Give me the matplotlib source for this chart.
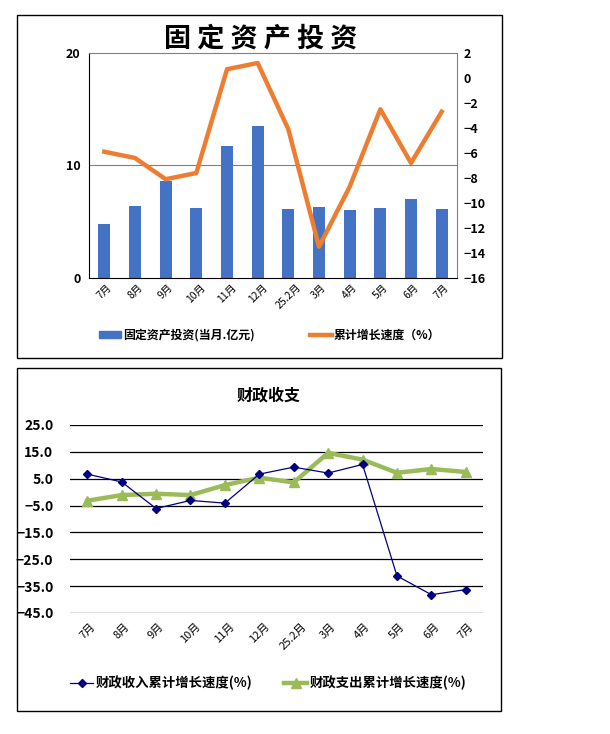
import matplotlib
matplotlib.use('Agg')
import matplotlib.pyplot as plt
from matplotlib.patches import Rectangle
from matplotlib.lines import Line2D

plt.rcParams['font.family'] = ['Noto Sans CJK SC', 'DejaVu Sans']
plt.rcParams['font.weight'] = 'bold'

# Data
months = ['7月', '8月', '9月', '10月', '11月', '12月', '25.2月', '3月', '4月', '5月', '6月', '7月']
invest = [4.8, 6.4, 8.6, 6.2, 11.7, 13.5, 6.1, 6.3, 6.0, 6.2, 7.0, 6.1]
invest_growth = [-5.9, -6.4, -8.1, -7.6, 0.7, 1.2, -4.1, -13.5, -8.7, -2.5, -6.8, -2.7]
revenue_growth = [6.7, 3.8, -6.1, -3.1, -4.1, 6.7, 9.3, 7.1, 10.3, -31.2, -38.2, -36.3]
spending_growth = [-3.2, -1.1, -0.6, -1.1, 2.6, 5.4, 3.6, 14.6, 12.1, 7.2, 8.6, 7.5]

x = list(range(len(months)))

fig = plt.figure(figsize=(6.1, 7.34), dpi=100)

# panel frames
fig.patches.append(Rectangle((0.0279, 0.5123), 0.7951, 0.4673, transform=fig.transFigure,
                             fill=False, edgecolor='black', linewidth=1.0))
fig.patches.append(Rectangle((0.0279, 0.0313), 0.7934, 0.4673, transform=fig.transFigure,
                             fill=False, edgecolor='black', linewidth=1.0))

# ---- Top chart: fixed asset investment
ax1 = fig.add_axes([0.1459, 0.6213, 0.6033, 0.3065])
ax1.bar(x, invest, width=0.39, color='#4472C4', zorder=2)
ax1.set_xlim(-0.5, 11.5)
ax1.set_ylim(0, 20)
ax1.set_yticks([0, 10, 20])
ax1.axhline(10, color='#808080', linewidth=0.8, zorder=1)
ax1.set_xticks(x)
ax1.set_xticklabels(months, rotation=45, fontsize=7.5, fontweight='medium')
ax1.tick_params(axis='x', length=0, pad=3)
ax1.tick_params(axis='y', length=0, labelsize=9, pad=6)
ax1.spines['top'].set_color('#808080')
ax1.spines['right'].set_color('#808080')

ax2 = ax1.twinx()
ax2.plot(x, invest_growth, color='#ED7D31', linewidth=3.2, zorder=3)
ax2.set_ylim(-16, 2)
ax2.set_yticks(range(-16, 3, 2))
ax2.tick_params(axis='y', length=0, labelsize=9, pad=5)
for s in ax2.spines.values():
    s.set_visible(False)

fig.text(0.428, 0.9476, '固 定 资 产 投 资', fontsize=19.5, fontweight='bold',
         ha='center', va='center')

h1 = Rectangle((0, 0), 1, 1, color='#4472C4')
h2 = Line2D([], [], color='#ED7D31', linewidth=3.2)
fig.legend([h1, h2], ['固定资产投资(当月.亿元)', '累计增长速度（%）'],
           loc='center', bbox_to_anchor=(0.442, 0.5436), ncol=2, frameon=False,
           fontsize=8.6, handlelength=1.85, handleheight=0.55, columnspacing=4.6,
           handletextpad=0.15)

# ---- Bottom chart: fiscal revenue & spending
ax3 = fig.add_axes([0.1148, 0.1649, 0.677, 0.2561])
ax3.plot(x, revenue_growth, color='#000080', linewidth=0.9, marker='D', markersize=4.5, zorder=3)
ax3.plot(x, spending_growth, color='#9BBB59', linewidth=3.2, marker='^', markersize=7, zorder=2)
ax3.set_xlim(-0.5, 11.5)
ax3.set_ylim(-45, 25)
yt = list(range(-45, 26, 10))
ax3.set_yticks(yt)
ax3.set_yticklabels([f'{v:.1f}'.replace('-', '−') for v in yt], fontsize=10)
ax3.yaxis.grid(True, color='black', linewidth=0.9)
ax3.set_axisbelow(True)
ax3.set_xticks(x)
ax3.set_xticklabels(months, rotation=45, fontsize=8, fontweight='medium')
ax3.tick_params(axis='x', length=0, pad=6)
ax3.tick_params(axis='y', length=0, pad=12)
for s in ax3.spines.values():
    s.set_visible(False)

fig.text(0.441, 0.4618, '财政收支', fontsize=11.5, fontweight='bold', ha='center', va='center')

h3 = Line2D([], [], color='#000080', linewidth=0.9, marker='D', markersize=4.5)
h4 = Line2D([], [], color='#9BBB59', linewidth=3.2, marker='^', markersize=7)
fig.legend([h3, h4], ['财政收入累计增长速度(%)', '财政支出累计增长速度(%)'],
           loc='center', bbox_to_anchor=(0.44, 0.0695), ncol=2, frameon=False,
           fontsize=9.6, handlelength=1.7, columnspacing=2.4, handletextpad=0.2)

fig.savefig('out.png', dpi=100)
